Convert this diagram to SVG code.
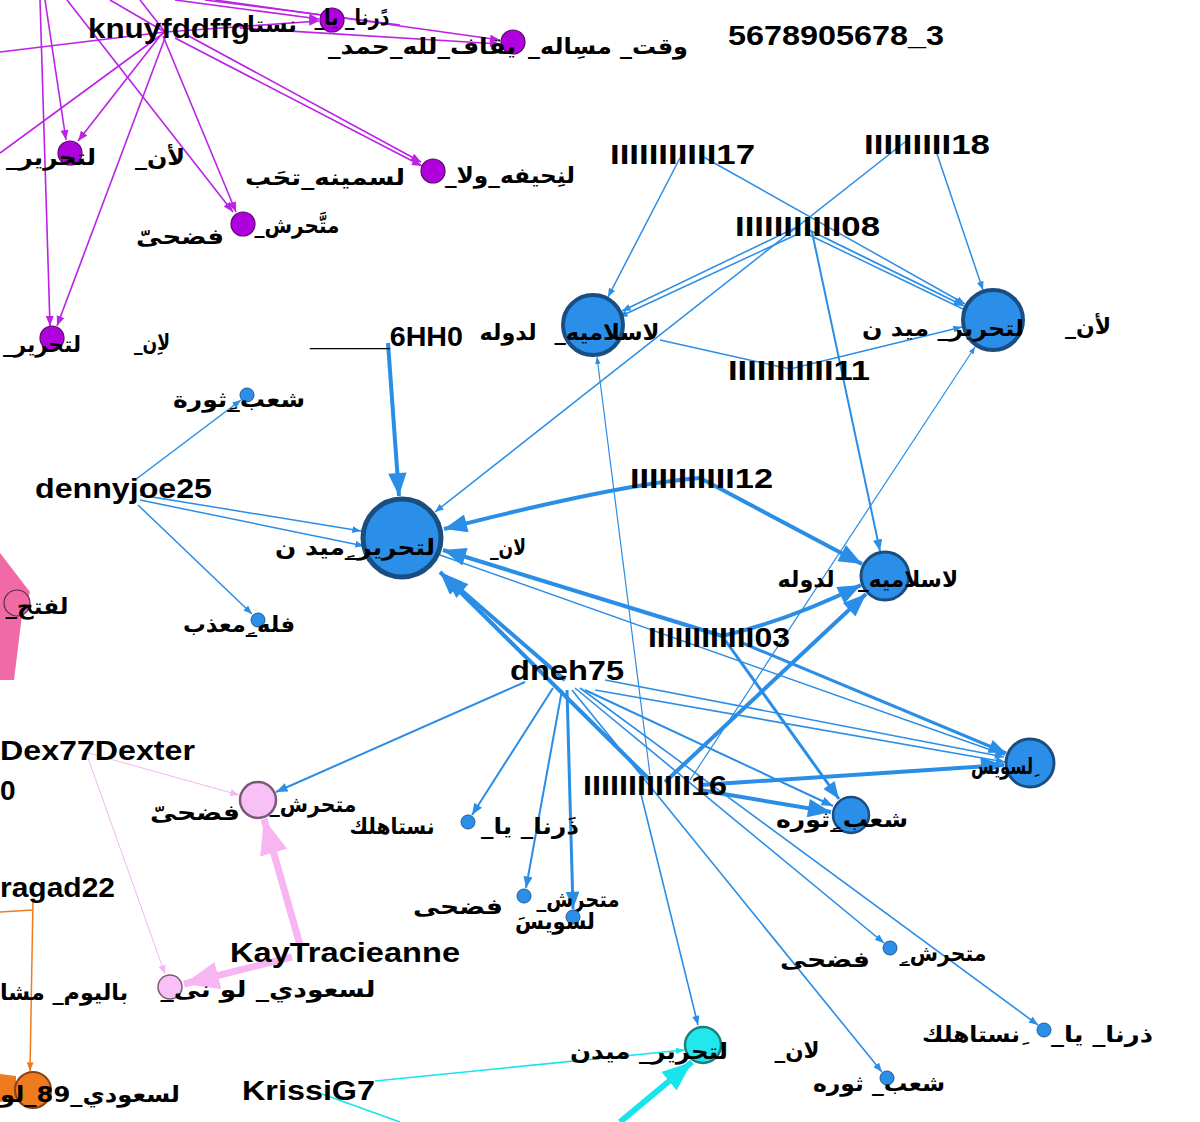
<svg xmlns="http://www.w3.org/2000/svg" width="1200" height="1122" viewBox="0 0 1200 1122">
<style>
.lt{font-family:"Liberation Sans",Arial,sans-serif;font-weight:bold;font-size:28px;fill:#000}
.ar{font-family:"DejaVu Sans","Noto Sans",sans-serif;font-weight:bold;font-size:22px;fill:#000;direction:rtl;text-anchor:middle}
.eb{stroke:#2a8de6;fill:none}
.ep{stroke:#bb22e6;fill:none;stroke-width:1.6}
.el{stroke:#f7b5f2;fill:none}
.eo{stroke:#f07a1e;fill:none}
.ec{stroke:#18e4ee;fill:none}
.nb{fill:#2b8fea;stroke:#1b4e80}
.ns{fill:#2b8fea;stroke:#1f5a90;stroke-width:1}
.np{fill:#b000de;stroke:#5a0a6a;stroke-width:1.2}
</style>
<defs>
<marker id="ab" viewBox="0 0 10 8" refX="10" refY="4" markerWidth="6" markerHeight="4.6" orient="auto" markerUnits="strokeWidth"><path d="M0,0L10,4L0,8z" fill="#2a8de6"/></marker>
<marker id="ap" viewBox="0 0 10 8" refX="10" refY="4" markerWidth="6.5" markerHeight="5" orient="auto" markerUnits="strokeWidth"><path d="M0,0L10,4L0,8z" fill="#bb22e6"/></marker>
<marker id="al" viewBox="0 0 10 8" refX="10" refY="4" markerWidth="5" markerHeight="4.5" orient="auto" markerUnits="strokeWidth"><path d="M0,0L10,4L0,8z" fill="#f7b5f2"/></marker>
<marker id="al2" viewBox="0 0 10 8" refX="10" refY="4" markerWidth="9" markerHeight="7" orient="auto" markerUnits="strokeWidth"><path d="M0,0L10,4L0,8z" fill="#f7b5f2"/></marker>
<marker id="ao" viewBox="0 0 10 8" refX="10" refY="4" markerWidth="6" markerHeight="4.6" orient="auto" markerUnits="strokeWidth"><path d="M0,0L10,4L0,8z" fill="#f07a1e"/></marker>
<marker id="ac" viewBox="0 0 10 8" refX="10" refY="4" markerWidth="5" markerHeight="4" orient="auto" markerUnits="strokeWidth"><path d="M0,0L10,4L0,8z" fill="#18e4ee"/></marker>
</defs>
<rect width="1200" height="1122" fill="#fff"/>
<g id="connectors">
<path class="ep" d="M165,32L319,21" marker-end="url(#ap)"/>
<path class="ep" d="M175,0L319,19" marker-end="url(#ap)"/>
<path class="ep" d="M215,0L500,40" marker-end="url(#ap)"/>
<path class="ep" d="M240,28L500,44" marker-end="url(#ap)"/>
<path class="ep" d="M160,36L78,141" marker-end="url(#ap)"/>
<path class="ep" d="M45,0L66,140" marker-end="url(#ap)"/>
<path class="ep" d="M163,36L236,212" marker-end="url(#ap)"/>
<path class="ep" d="M67,0L233,212" marker-end="url(#ap)"/>
<path class="ep" d="M175,38L422,166" marker-end="url(#ap)"/>
<path class="ep" d="M185,34L421,162" marker-end="url(#ap)"/>
<path class="ep" d="M165,38L57,326" marker-end="url(#ap)"/>
<path class="ep" d="M40,0L50,326" marker-end="url(#ap)"/>
<path class="ep" d="M0,52L165,32"/>
<path class="ep" d="M0,153L165,32"/>
<path class="ep" d="M110,0L165,32"/>
<path class="ep" d="M140,0L165,32"/>
<path class="ep" d="M205,0L400,25"/>
<path d="M0,553L30,592L22,615L14,680L0,680Z" fill="#f06aa6"/>
<path class="el" d="M300,945L264,819" stroke-width="7" marker-end="url(#al)"/>
<path class="el" d="M292,957L184,984" stroke-width="7" marker-end="url(#al)"/>
<path class="el" d="M85,752L239,795" stroke-width="1" marker-end="url(#al2)"/>
<path class="el" d="M88,758L165,974" stroke-width="1" marker-end="url(#al2)"/>
<path class="eo" d="M33,900L30,1071" stroke-width="1.5" marker-end="url(#ao)"/>
<path class="eo" d="M0,912L33,910" stroke-width="1.5"/>
<path d="M0,1074L16,1076L16,1100L0,1102Z" fill="#f07a1e"/>
<path class="ec" d="M375,1081L684,1050" stroke-width="1.6" marker-end="url(#ac)"/>
<path class="ec" d="M322,1094L400,1122" stroke-width="1.6"/>
<path class="ec" d="M620,1122L692,1062" stroke-width="6" marker-end="url(#ac)"/>
<path class="eb" d="M680,158L608,297" stroke-width="1.5" marker-end="url(#ab)"/>
<path class="eb" d="M700,155L965,304" stroke-width="1.5" marker-end="url(#ab)"/>
<path class="eb" d="M935,148L983,290" stroke-width="1.5" marker-end="url(#ab)"/>
<path class="eb" d="M905,142L435,512" stroke-width="1.5" marker-end="url(#ab)"/>
<path class="eb" d="M795,228L622,311" stroke-width="1.5" marker-end="url(#ab)"/>
<path class="eb" d="M800,233L619,317" stroke-width="1.5" marker-end="url(#ab)"/>
<path class="eb" d="M805,228L964,306" stroke-width="1.8" marker-end="url(#ab)"/>
<path class="eb" d="M805,233L963,309" stroke-width="1.5"/>
<path class="eb" d="M812,232L880,551" stroke-width="2" marker-end="url(#ab)"/>
<path class="eb" d="M660,340L790,369L962,327" stroke-width="1.5" marker-end="url(#ab)"/>
<path class="eb" d="M700,478Q620,484 444,529" stroke-width="4" marker-end="url(#ab)"/>
<path class="eb" d="M700,478L862,564" stroke-width="4" marker-end="url(#ab)"/>
<path class="eb" d="M722,636L443,550" stroke-width="4" marker-end="url(#ab)"/>
<path class="eb" d="M722,636Q790,620 861,585" stroke-width="4" marker-end="url(#ab)"/>
<path class="eb" d="M725,640L839,799" stroke-width="3" marker-end="url(#ab)"/>
<path class="eb" d="M740,642L1006,753" stroke-width="3" marker-end="url(#ab)"/>
<path class="eb" d="M388,343L399,496" stroke-width="4" marker-end="url(#ab)"/>
<path class="eb" d="M135,480L241,400" stroke-width="1.5" marker-end="url(#ab)"/>
<path class="eb" d="M140,495L361,531" stroke-width="1.5" marker-end="url(#ab)"/>
<path class="eb" d="M140,500L364,546" stroke-width="1.5" marker-end="url(#ab)"/>
<path class="eb" d="M138,505L252,614" stroke-width="1.5" marker-end="url(#ab)"/>
<path class="eb" d="M440,555L1005,755" stroke-width="1.5" marker-end="url(#ab)"/>
<path class="eb" d="M665,782L866,594" stroke-width="4" marker-end="url(#ab)"/>
<path class="eb" d="M690,780L975,347" stroke-width="1.2" marker-end="url(#ab)"/>
<path class="eb" d="M700,785L1004,765" stroke-width="4" marker-end="url(#ab)"/>
<path class="eb" d="M700,790L831,812" stroke-width="4" marker-end="url(#ab)"/>
<path class="eb" d="M650,780L440,572" stroke-width="4" marker-end="url(#ab)"/>
<path class="eb" d="M640,790L698,1025" stroke-width="1.6" marker-end="url(#ab)"/>
<path class="eb" d="M650,775L597,357" stroke-width="1.2" marker-end="url(#ab)"/>
<path class="eb" d="M565,680L445,576" stroke-width="4" marker-end="url(#ab)"/>
<path class="eb" d="M525,682L276,792" stroke-width="2" marker-end="url(#ab)"/>
<path class="eb" d="M553,688L472,815" stroke-width="2" marker-end="url(#ab)"/>
<path class="eb" d="M562,690L526,888" stroke-width="2" marker-end="url(#ab)"/>
<path class="eb" d="M567,690L573,909" stroke-width="3" marker-end="url(#ab)"/>
<path class="eb" d="M575,688L884,943" stroke-width="1.6" marker-end="url(#ab)"/>
<path class="eb" d="M580,688L1038,1025" stroke-width="1.6" marker-end="url(#ab)"/>
<path class="eb" d="M572,690L882,1072" stroke-width="1.6" marker-end="url(#ab)"/>
<path class="eb" d="M605,680L1004,757" stroke-width="1.6" marker-end="url(#ab)"/>
<path class="eb" d="M595,690L1005,762" stroke-width="1.6" marker-end="url(#ab)"/>
<path class="eb" d="M585,690L833,806" stroke-width="2" marker-end="url(#ab)"/>
</g>
<g id="nodes">
<g id="n-knuy"><text class="lt" x="88" y="38" textLength="162" lengthAdjust="spacingAndGlyphs">knuyfddffg</text></g>
<g id="n-p1"><circle class="np" cx="332" cy="20" r="12"/><text class="ar" x="352" y="25" textLength="75" lengthAdjust="spacingAndGlyphs">دًرنا_ يا_</text><text class="ar" x="272" y="32" textLength="50" lengthAdjust="spacingAndGlyphs">نستا</text></g>
<g id="n-p2"><circle class="np" cx="513" cy="42" r="12"/><text class="ar" x="422" y="54" textLength="188" lengthAdjust="spacingAndGlyphs">يقاف_لله_حمد_</text><text class="ar" x="608" y="54" textLength="160" lengthAdjust="spacingAndGlyphs">وقت_ مسِاله_</text></g>
<g id="n-5678"><text class="lt" x="728" y="45" textLength="216" lengthAdjust="spacingAndGlyphs">5678905678_3</text></g>
<g id="n-p3"><circle class="np" cx="70" cy="153" r="12"/><text class="ar" x="51" y="165" textLength="90" lengthAdjust="spacingAndGlyphs">لتحرير_</text><text class="ar" x="160" y="165" textLength="50" lengthAdjust="spacingAndGlyphs">لأن_</text></g>
<g id="n-p4"><circle class="np" cx="433" cy="171" r="12"/><text class="ar" x="510" y="183" textLength="130" lengthAdjust="spacingAndGlyphs">لنِحيفه_ولا_</text><text class="ar" x="325" y="185" textLength="160" lengthAdjust="spacingAndGlyphs">لسمينه_تحَب</text></g>
<g id="n-p5"><circle class="np" cx="243" cy="224" r="12"/><text class="ar" x="297" y="233" textLength="85" lengthAdjust="spacingAndGlyphs">متَّحرش_</text><text class="ar" x="180" y="244" textLength="88" lengthAdjust="spacingAndGlyphs">فضحىّ</text></g>
<g id="n-p6"><circle class="np" cx="52" cy="338" r="12"/><text class="ar" x="42" y="352" textLength="78" lengthAdjust="spacingAndGlyphs">لتحرير_</text><text class="ar" x="152" y="350" textLength="36" lengthAdjust="spacingAndGlyphs">لاِن_</text></g>
<g id="n-17"><text class="lt" x="610" y="164" textLength="145" lengthAdjust="spacingAndGlyphs">IIIIIIIIIII17</text></g>
<g id="n-18"><text class="lt" x="864" y="154" textLength="126" lengthAdjust="spacingAndGlyphs">IIIIIIIII18</text></g>
<g id="n-08"><text class="lt" x="735" y="236" textLength="145" lengthAdjust="spacingAndGlyphs">IIIIIIIIIII08</text></g>
<g id="n-11"><text class="lt" x="728" y="380" textLength="142" lengthAdjust="spacingAndGlyphs">IIIIIIIIIII11</text></g>
<g id="n-12"><text class="lt" x="630" y="488" textLength="143" lengthAdjust="spacingAndGlyphs">IIIIIIIIIII12</text></g>
<g id="n-03"><text class="lt" x="648" y="647" textLength="142" lengthAdjust="spacingAndGlyphs">IIIIIIIIIIII03</text></g>
<g id="n-16"><text class="lt" x="583" y="795" textLength="144" lengthAdjust="spacingAndGlyphs">IIIIIIIIIIII16</text></g>
<g id="n-6hh0"><text class="lt" x="310" y="346" textLength="153" lengthAdjust="spacingAndGlyphs">_____6HH0</text></g>
<g id="n-denny"><text class="lt" x="35" y="498" textLength="177" lengthAdjust="spacingAndGlyphs">dennyjoe25</text></g>
<g id="n-dneh"><text class="lt" x="510" y="680" textLength="114" lengthAdjust="spacingAndGlyphs">dneh75</text></g>
<g id="n-dex"><text class="lt" x="0" y="760" textLength="195" lengthAdjust="spacingAndGlyphs">Dex77Dexter</text><text class="lt" x="0" y="800">0</text></g>
<g id="n-ragad"><text class="lt" x="0" y="897" textLength="115" lengthAdjust="spacingAndGlyphs">ragad22</text></g>
<g id="n-kay"><text class="lt" x="230" y="962" textLength="230" lengthAdjust="spacingAndGlyphs">KayTracieanne</text></g>
<g id="n-krissi"><text class="lt" x="242" y="1100" textLength="133" lengthAdjust="spacingAndGlyphs">KrissiG7</text></g>
<g id="n-big"><circle class="nb" cx="402" cy="538" r="39" stroke-width="5"/><text class="ar" x="355" y="555" textLength="160" lengthAdjust="spacingAndGlyphs">لتحرير_ِميد ن</text><text class="ar" x="508" y="555" textLength="36" lengthAdjust="spacingAndGlyphs">لان_</text></g>
<g id="n-islam1"><circle class="nb" cx="593" cy="325" r="30" stroke-width="4"/><text class="ar" x="607" y="340" textLength="105" lengthAdjust="spacingAndGlyphs">لاسلاميه_</text><text class="ar" x="508" y="340" textLength="57" lengthAdjust="spacingAndGlyphs">لدوله</text></g>
<g id="n-tahrir2"><circle class="nb" cx="993" cy="320" r="30" stroke-width="4"/><text class="ar" x="943" y="336" textLength="162" lengthAdjust="spacingAndGlyphs">لتحرير_ ميد ن</text><text class="ar" x="1088" y="334" textLength="46" lengthAdjust="spacingAndGlyphs">لأن_</text></g>
<g id="n-islam2"><circle class="nb" cx="885" cy="576" r="24" stroke-width="3"/><text class="ar" x="908" y="587" textLength="100" lengthAdjust="spacingAndGlyphs">لاسلاميه_</text><text class="ar" x="806" y="587" textLength="57" lengthAdjust="spacingAndGlyphs">لدوله</text></g>
<g id="n-suez"><circle class="nb" cx="1030" cy="763" r="24" stroke-width="3"/><text class="ar" x="1002" y="774" textLength="62" lengthAdjust="spacingAndGlyphs">ِلسويس</text></g>
<g id="n-shaab"><circle class="nb" cx="851" cy="815" r="18" stroke-width="2.5"/><text class="ar" x="842" y="827" textLength="132" lengthAdjust="spacingAndGlyphs">شعب_ِثوره</text></g>
<g id="n-s1"><circle class="ns" cx="247" cy="395" r="7"/><text class="ar" x="239" y="407" textLength="132" lengthAdjust="spacingAndGlyphs">شعب_ِثورة</text></g>
<g id="n-s2"><circle class="ns" cx="258" cy="620" r="7"/><text class="ar" x="239" y="632" textLength="112" lengthAdjust="spacingAndGlyphs">فله_ِمعذب</text></g>
<g id="n-s3"><circle class="ns" cx="468" cy="822" r="7"/><text class="ar" x="530" y="834" textLength="98" lengthAdjust="spacingAndGlyphs">ذَرنا_ يا_</text><text class="ar" x="392" y="834" textLength="85" lengthAdjust="spacingAndGlyphs">نستاهلك</text></g>
<g id="n-s4"><circle class="ns" cx="524" cy="896" r="7"/><text class="ar" x="458" y="914" textLength="90" lengthAdjust="spacingAndGlyphs">فضحى</text><text class="ar" x="578" y="907" textLength="83" lengthAdjust="spacingAndGlyphs">متحرش_</text></g>
<g id="n-s5"><circle class="ns" cx="573" cy="917" r="7"/><text class="ar" x="555" y="929" textLength="80" lengthAdjust="spacingAndGlyphs">لسويسَ</text></g>
<g id="n-s6"><circle class="ns" cx="890" cy="948" r="7"/><text class="ar" x="943" y="961" textLength="87" lengthAdjust="spacingAndGlyphs">متحرش_ِ</text><text class="ar" x="825" y="967" textLength="90" lengthAdjust="spacingAndGlyphs">فضحى</text></g>
<g id="n-s7"><circle class="ns" cx="1044" cy="1030" r="7"/><text class="ar" x="1102" y="1042" textLength="102" lengthAdjust="spacingAndGlyphs">ذرنا_ يا_</text><text class="ar" x="971" y="1042" textLength="98" lengthAdjust="spacingAndGlyphs">ِنستاهلك</text></g>
<g id="n-s8"><circle class="ns" cx="887" cy="1078" r="7"/><text class="ar" x="879" y="1091" textLength="132" lengthAdjust="spacingAndGlyphs">شعب_ ثوره</text></g>
<g id="n-cyan"><circle cx="703" cy="1045" r="18" fill="#22e8ee" stroke="#1a8080" stroke-width="2.5"/><text class="ar" x="649" y="1059" textLength="158" lengthAdjust="spacingAndGlyphs">لتحرير_ ميدن</text><text class="ar" x="797" y="1058" textLength="45" lengthAdjust="spacingAndGlyphs">لان_</text></g>
<g id="n-pl1"><circle cx="258" cy="800" r="18" fill="#f9c0f5" stroke="#7a5a78" stroke-width="2.5"/><text class="ar" x="313" y="812" textLength="87" lengthAdjust="spacingAndGlyphs">متحرش_</text><text class="ar" x="195" y="820" textLength="90" lengthAdjust="spacingAndGlyphs">فضحىّ</text></g>
<g id="n-pl2"><circle cx="170" cy="987" r="12" fill="#f9c0f5" stroke="#7a5a78" stroke-width="1.5"/><text class="ar" x="268" y="997" textLength="215" lengthAdjust="spacingAndGlyphs">لسعودي_ لو نى_</text><text class="ar" x="64" y="1000" textLength="128" lengthAdjust="spacingAndGlyphs">باليوم_ مشا</text></g>
<g id="n-pink"><circle cx="17" cy="603" r="13" fill="#f06aa6" stroke="#5a3040" stroke-width="1.2"/><text class="ar" x="37" y="614" textLength="63" lengthAdjust="spacingAndGlyphs">لفتح_</text></g>
<g id="n-orange"><circle cx="33" cy="1090" r="18" fill="#f07a1e" stroke="#8a4010" stroke-width="2"/><text class="ar" x="90" y="1102" textLength="180" lengthAdjust="spacingAndGlyphs">لسعودي_89_لو</text></g>
</g>
</svg>
